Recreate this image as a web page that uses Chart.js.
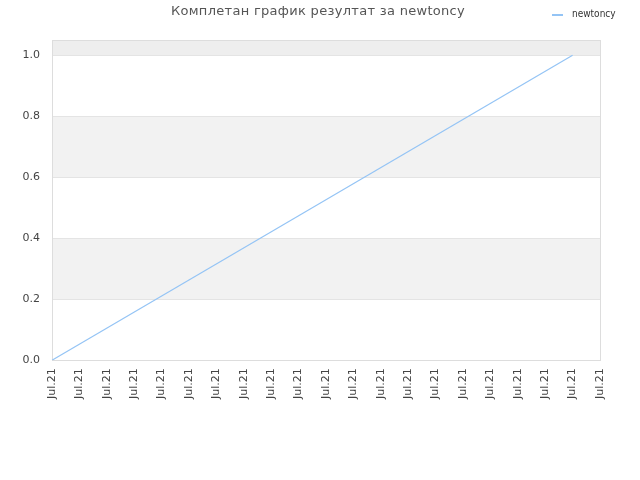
<!DOCTYPE html>
<html>
<head>
<meta charset="utf-8">
<script src="https://cdn.jsdelivr.net/npm/chart.js@4"></script>
<style>
  html, body { margin: 0; padding: 0; background: #fff; }
  #wrap { position: relative; width: 640px; height: 480px; }
</style>
</head>
<body>
<div id="wrap"><canvas id="chart" width="640" height="480"></canvas></div>
<script>
const titleText = "Комплетан график резултат за newtoncy";
const seriesName = "newtoncy";
const categories = ["Jul.21", "Jul.21", "Jul.21", "Jul.21", "Jul.21", "Jul.21", "Jul.21",
                    "Jul.21", "Jul.21", "Jul.21", "Jul.21", "Jul.21", "Jul.21", "Jul.21",
                    "Jul.21", "Jul.21", "Jul.21", "Jul.21", "Jul.21", "Jul.21", "Jul.21"];
const values = [0, null, null, null, null, null, null, null, null, null,
                null, null, null, null, null, null, null, null, null, 1, null];
const yTicks = [0, 0.2, 0.4, 0.6, 0.8, 1.0];

const lineColor = "#94c4f5";

// alternating grey bands + plot frame
const bandsPlugin = {
    id: "bands",
    beforeDatasetsDraw(chart) {
        const { ctx, chartArea: a, scales: { y } } = chart;
        ctx.save();
        const bands = [[0.2, 0.4, "#f2f2f2"], [0.6, 0.8, "#f2f2f2"], [1.0, y.max, "#eeeeee"]];
        bands.forEach(([lo, hi, c]) => {
            const top = y.getPixelForValue(hi);
            const bot = y.getPixelForValue(lo);
            ctx.fillStyle = c;
            ctx.fillRect(a.left, top, a.right - a.left, bot - top);
        });
        ctx.strokeStyle = "#e4e4e4";
        ctx.lineWidth = 1;
        yTicks.forEach(v => {
            const py = Math.round(y.getPixelForValue(v)) + 0.5;
            ctx.beginPath();
            ctx.moveTo(a.left, py);
            ctx.lineTo(a.right, py);
            ctx.stroke();
        });
        ctx.strokeStyle = "#dddddd";
        ctx.strokeRect(Math.round(a.left) + 0.5, Math.round(a.top) + 0.5,
                       Math.round(a.right - a.left), Math.round(a.bottom - a.top));
        ctx.restore();
    }
};

// title centred on the page, legend top right, like the original
const headerPlugin = {
    id: "header",
    afterDraw(chart) {
        const { ctx } = chart;
        const ds = chart.data.datasets[0];
        ctx.save();
        ctx.fillStyle = "#555";
        ctx.font = "13px 'DejaVu Sans'";
        ctx.letterSpacing = "0.3px";
        ctx.textAlign = "center";
        ctx.textBaseline = "middle";
        ctx.fillText(titleText, 318, 12);
        ctx.letterSpacing = "0px";

        ctx.strokeStyle = ds.borderColor;
        ctx.lineWidth = 2;
        ctx.beginPath();
        ctx.moveTo(552, 15);
        ctx.lineTo(563, 15);
        ctx.stroke();
        ctx.fillStyle = "#333";
        ctx.font = "10px 'DejaVu Sans Condensed', 'DejaVu Sans'";
        ctx.textAlign = "left";
        ctx.fillText(ds.label, 572, 14);
        ctx.restore();
    }
};

const ctx = document.getElementById("chart").getContext("2d");
new Chart(ctx, {
    type: "line",
    data: {
        labels: categories,
        datasets: [{
            label: seriesName,
            data: values,
            borderColor: lineColor,
            backgroundColor: lineColor,
            borderWidth: 1.2,
            pointRadius: 0,
            tension: 0,
            spanGaps: true
        }]
    },
    options: {
        responsive: false,
        animation: false,
        devicePixelRatio: 1,
        layout: { padding: { left: 8, right: 40, top: 40, bottom: 73 } },
        plugins: {
            legend: { display: false },
            tooltip: { enabled: false },
            title: { display: false }
        },
        scales: {
            x: {
                offset: false,
                grid: { display: false, drawTicks: false },
                border: { display: false },
                ticks: {
                    autoSkip: false,
                    maxRotation: 90,
                    minRotation: 90,
                    padding: 8,
                    color: "#444",
                    font: { family: "DejaVu Sans", size: 11 }
                }
            },
            y: {
                min: 0,
                max: 1.05,
                afterBuildTicks(scale) {
                    scale.ticks = yTicks.map(v => ({ value: v }));
                },
                afterFit(scale) { scale.width = 44; },
                grid: { display: false, drawTicks: false },
                border: { display: false },
                ticks: {
                    padding: 12,
                    color: "#444",
                    font: { family: "DejaVu Sans", size: 11 },
                    callback: v => Number(v).toFixed(1)
                }
            }
        }
    },
    plugins: [bandsPlugin, headerPlugin]
});
</script>
</body>
</html>
